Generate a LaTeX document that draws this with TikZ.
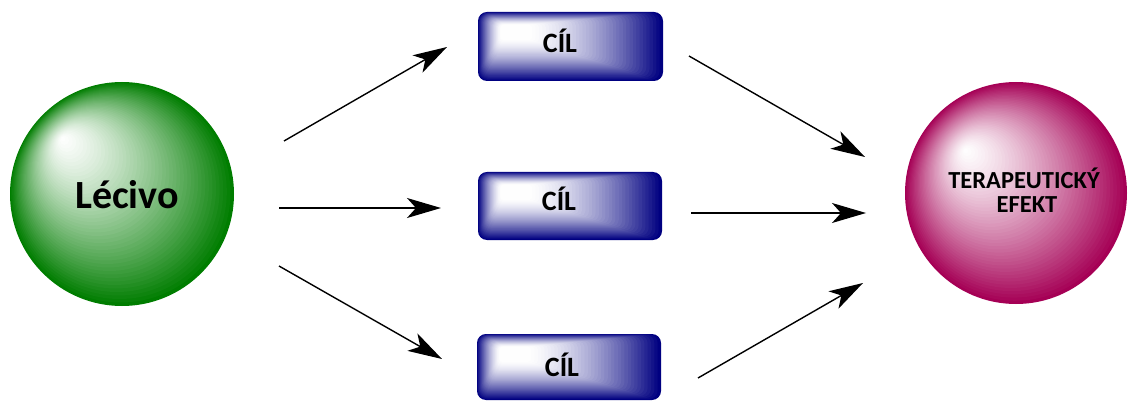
\documentclass[tikz,border=0pt]{standalone}
\usepackage{fontspec}
\setmainfont{Carlito}
\usetikzlibrary{arrows.meta,calc}

\definecolor{leaf}{RGB}{0,125,0}
\definecolor{berry}{RGB}{165,0,85}
\definecolor{deepnavy}{RGB}{0,0,128}

% sphere: nested circles sliding from the rim towards a highlight point
% #1 centre, #2 radius, #3 highlight, #4 colour
\newcommand\shadedball[4]{%
  \foreach \i in {0,...,47}{%
    \pgfmathsetmacro\ballt{\i/48}%
    \pgfmathsetmacro\ballf{100*(1-\ballt)^1.3}%
    \pgfmathsetmacro\ballr{#2*(1-\ballt)}%
    \fill[#4!\ballf!white] ($(#1)!\ballt!(#3)$) circle[radius=\ballr pt];
  }}

% bevelled box: nested rounded rectangles shrinking towards a highlight
% #1,#2 upper-left corner, #3,#4 lower-right corner, #5,#6 highlight
\newcommand\shadedbox[6]{%
  \foreach \i in {0,...,39}{%
    \pgfmathsetmacro\boxt{\i/40}%
    \pgfmathsetmacro\boxf{100*(1-\boxt)^1.5}%
    \pgfmathsetmacro\ax{#1+\boxt*((#5-14)-#1)}%
    \pgfmathsetmacro\ay{#2+\boxt*((#6-7)-#2)}%
    \pgfmathsetmacro\bx{#3+\boxt*((#5+14)-#3)}%
    \pgfmathsetmacro\by{#4+\boxt*((#6+7)-#4)}%
    \pgfmathsetmacro\br{9-6*\boxt}%
    \fill[deepnavy!\boxf!white, rounded corners=\br pt] (\ax,\ay) rectangle (\bx,\by);
  }}

\tikzset{
  link/.style={-{Stealth[length=34pt,width=20pt,inset=9pt]}, line width=1.4pt},
  bigtext/.style={font=\fontsize{40}{42}\selectfont\bfseries, anchor=base, inner sep=0pt},
  boxtext/.style={font=\fontsize{28}{30}\selectfont\bfseries, anchor=base, inner sep=0pt},
  efftext/.style={font=\fontsize{24.5}{26}\selectfont\bfseries, anchor=base, inner sep=0pt},
}

\begin{document}
\begin{tikzpicture}[x=1pt, y=-1pt]
  \useasboundingbox (0,0) rectangle (1128,401);

  % spheres
  \coordinate (drugc) at (122,194);
  \coordinate (drugh) at (62,138);
  \shadedball{drugc}{112}{drugh}{leaf}
  \coordinate (effc) at (1016,193);
  \coordinate (effh) at (965,150);
  \shadedball{effc}{111}{effh}{berry}

  % target boxes
  \shadedbox{478}{12}{663}{81}{515}{32}
  \shadedbox{478}{172}{662}{240}{515}{192}
  \shadedbox{477}{334}{661}{400}{514}{354}

  % labels
  \node[bigtext] (drug) at (127,208) {Lécivo};
  \node[boxtext] (t1) at (560,53) {CÍL};
  \node[boxtext] (t2) at (559,211) {CÍL};
  \node[boxtext] (t3) at (562,376) {CÍL};
  \node[efftext] (eff1) at (1024,189) {TERAPEUTICKÝ};
  \node[efftext] (eff2) at (1027,213) {EFEKT};

  % arrow end points
  \coordinate (a1s) at (284,141); \coordinate (a1e) at (447,47);
  \coordinate (a2s) at (279,208); \coordinate (a2e) at (441,208);
  \coordinate (a3s) at (279,266); \coordinate (a3e) at (442,359);
  \coordinate (a4s) at (689,56);  \coordinate (a4e) at (865,157);
  \coordinate (a5s) at (691,213); \coordinate (a5e) at (866,213);
  \coordinate (a6s) at (698,378); \coordinate (a6e) at (863,283);

  \draw[link] (a1s) -- (a1e);
  \draw[link] (a2s) -- (a2e);
  \draw[link] (a3s) -- (a3e);
  \draw[link] (a4s) -- (a4e);
  \draw[link] (a5s) -- (a5e);
  \draw[link] (a6s) -- (a6e);
\end{tikzpicture}
\end{document}
